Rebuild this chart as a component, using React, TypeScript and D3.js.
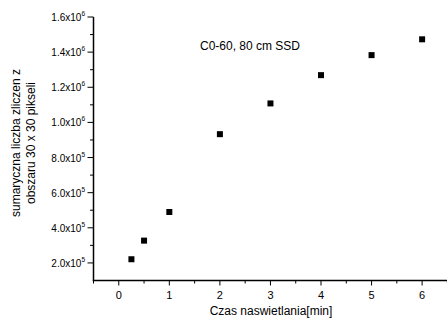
import React from "react";
import * as d3 from "d3";

const times = [0.25, 0.5, 1, 2, 3, 4, 5, 6];
const counts = [221000, 327000, 490000, 933000, 1108000, 1269000, 1383000, 1473000];
const xMajorTicks = [0, 1, 2, 3, 4, 5, 6];
const xMinorTicks = [-0.5, 0.5, 1.5, 2.5, 3.5, 4.5, 5.5, 6.5];
const yMajorTicks = [200000, 400000, 600000, 800000, 1000000, 1200000, 1400000, 1600000];
const yMinorTicks = [300000, 500000, 700000, 900000, 1100000, 1300000, 1500000];
const annotation = "C0-60, 80 cm SSD";
const xTitle = "Czas naswietlania[min]";
const yTitleLines = ["sumaryczna liczba zliczen z", "obszaru 30 x 30 pikseli"];

const W = 447;
const H = 320;
const FONT = "Arial, 'Liberation Sans', Helvetica, sans-serif";

export default function App() {
  const x = d3.scaleLinear().domain([-0.5, 6.5]).range([93.5, 447.4]);
  const y = d3.scaleLinear().domain([100000, 1600000]).range([280.5, 17]);
  const x0 = x(-0.5);
  const y0 = y(100000);

  const fmt = (v: number) => {
    const exp = Math.floor(Math.log10(v));
    const mant = (v / Math.pow(10, exp)).toFixed(1);
    return { mant: `${mant}x10`, exp: String(exp) };
  };

  return (
    <svg
      width={W}
      height={H}
      style={{ position: "fixed", left: 0, top: 0, background: "#fff" }}
      fontFamily={FONT}
    >
      <rect width={W} height={H} fill="#fff" />
      {/* axes */}
      <line x1={x0} y1={y(1600000)} x2={x0} y2={y0} stroke="#000" strokeWidth={1.5} />
      <line x1={x0 - 0.75} y1={y0} x2={W} y2={y0} stroke="#000" strokeWidth={1.5} />
      {/* y ticks */}
      {yMajorTicks.map((t) => {
        const f = fmt(t);
        return (
          <g key={"ym" + t}>
            <line x1={x0 - 6} x2={x0} y1={y(t)} y2={y(t)} stroke="#000" strokeWidth={1} />
            <text x={85} y={y(t) + 4} fontSize={10} textAnchor="end" fill="#000">
              {f.mant}
              <tspan fontSize={6.5} dy={-5}>{f.exp}</tspan>
            </text>
          </g>
        );
      })}
      {yMinorTicks.map((t) => (
        <line key={"yn" + t} x1={x0 - 3.5} x2={x0} y1={y(t)} y2={y(t)} stroke="#000" strokeWidth={1} />
      ))}
      {/* x ticks */}
      {xMajorTicks.map((t) => (
        <g key={"xm" + t}>
          <line x1={x(t)} x2={x(t)} y1={y0} y2={y0 + 5} stroke="#000" strokeWidth={1} />
          <text x={x(t)} y={299} fontSize={11} textAnchor="middle" fill="#000">
            {t}
          </text>
        </g>
      ))}
      {xMinorTicks.map((t) => (
        <line key={"xn" + t} x1={x(t)} x2={x(t)} y1={y0} y2={y0 + 3} stroke="#000" strokeWidth={1} />
      ))}
      {/* points */}
      {times.map((t, i) => (
        <rect key={"p" + i} x={x(t) - 3} y={y(counts[i]) - 3} width={6} height={6} fill="#000" />
      ))}
      {/* annotation */}
      <text x={200} y={50} fontSize={12} fill="#000">
        {annotation}
      </text>
      {/* x title */}
      <text x={271} y={315} fontSize={12} textAnchor="middle" fill="#000">
        {xTitle}
      </text>
      {/* y title */}
      {yTitleLines.map((l, i) => (
        <text
          key={"yt" + i}
          transform={`translate(${19.5 + i * 15},143) rotate(-90)`}
          fontSize={12}
          textAnchor="middle"
          fill="#000"
        >
          {l}
        </text>
      ))}
    </svg>
  );
}
